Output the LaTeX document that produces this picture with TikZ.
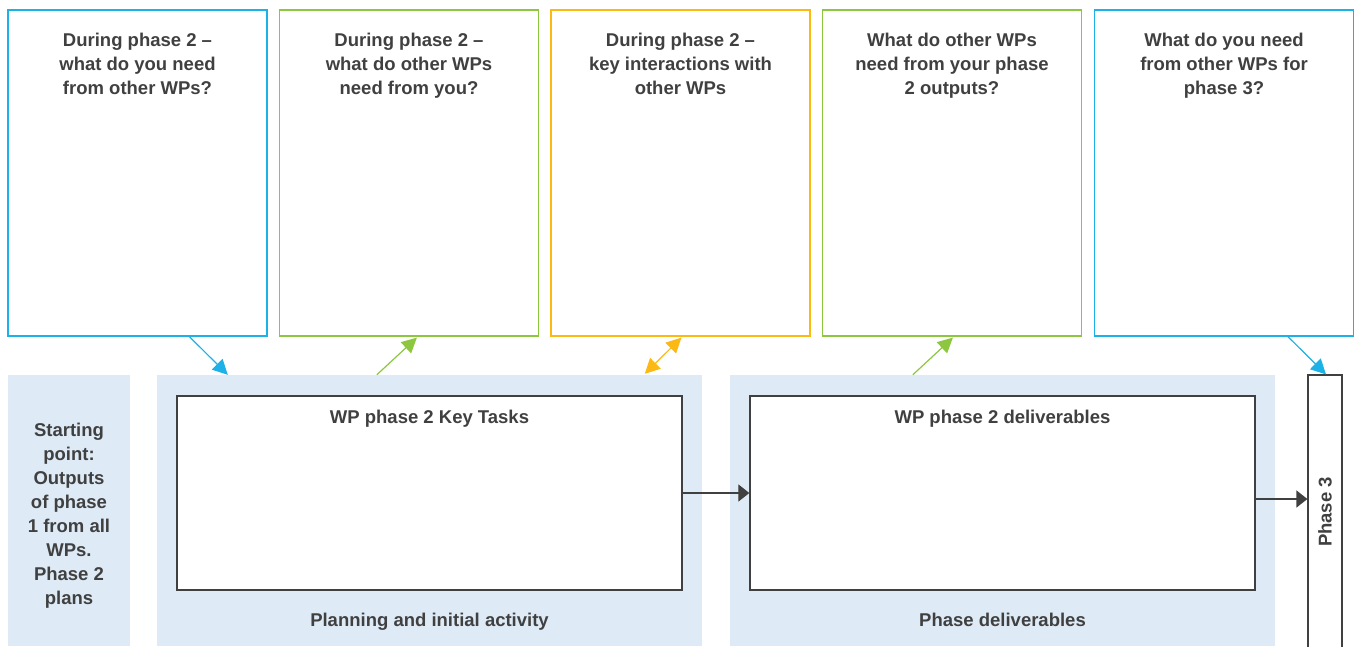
\documentclass[tikz,border=0pt]{standalone}
\usepackage{fontspec}
\setmainfont{Liberation Sans}
\usepackage{xcolor}
\definecolor{wpcyan}{HTML}{1CB1E7}
\definecolor{wpgreen}{HTML}{8DC63F}
\definecolor{wpyellow}{HTML}{FDB913}
\definecolor{wppale}{HTML}{DEEBF7}
\definecolor{wpgrey}{HTML}{404040}
\usepackage{tikz}
\usetikzlibrary{
  arrows.meta,
  positioning,
  calc
}

\begin{document}
\begin{tikzpicture}[
  x=1pt, y=-1pt,
  qbox/.style={rectangle, draw=#1, line width=1.2pt, fill=white, minimum width=259pt, minimum height=326pt, inner sep=0pt},
  panel/.style={rectangle, fill=wppale, minimum height=271pt, inner sep=0pt},
  taskbox/.style={rectangle, draw=wpgrey, line width=1.3pt, fill=white, minimum width=505pt, minimum height=194pt, inner sep=0pt},
  head/.style={inner sep=0pt, align=center, text=wpgrey, font=\fontsize{18.5}{24}\selectfont\bfseries},
  arr/.style={-{Triangle[length=15pt,width=15pt]}, line width=1.2pt, #1},
  flow/.style={-{Triangle[length=11pt,width=17pt]}, line width=1.2pt, wpgrey}
]
  \clip (0,0) rectangle (1359,646);

  % question boxes along the top
  \node[qbox=wpcyan] (q1) at (137.5,173) {};
  \node[head, below=23pt of q1.north] {During phase 2 --\\what do you need\\from other WPs?};

  \node[qbox=wpgreen] (q2) at (409,173) {};
  \node[head, below=23pt of q2.north] {During phase 2 --\\what do other WPs\\need from you?};

  \node[qbox=wpyellow] (q3) at (680.5,173) {};
  \node[head, below=23pt of q3.north] {During phase 2 --\\key interactions with\\other WPs};

  \node[qbox=wpgreen] (q4) at (952,173) {};
  \node[head, below=23pt of q4.north] {What do other WPs\\need from your phase\\2 outputs?};

  \node[qbox=wpcyan] (q5) at (1224,173) {};
  \node[head, below=23pt of q5.north] {What do you need\\from other WPs for\\phase 3?};

  % phase panels
  \node[panel, minimum width=122pt] (start) at (69,510.5) {};
  \node[head] at (69,516) {Starting\\point:\\Outputs\\of phase\\1 from all\\WPs.\\Phase 2\\plans};

  \node[panel, minimum width=545pt] (plan) at (429.5,510.5) {};
  \node[taskbox] (tasks) at (429.5,493) {};
  \node[head, below=15pt of tasks.north] {WP phase 2 Key Tasks};
  \node[head, anchor=base] at ($(plan.south)+(0,-20)$) {Planning and initial activity};

  \node[panel, minimum width=545pt] (deliv) at (1002.5,510.5) {};
  \node[taskbox] (items) at (1002.5,493) {};
  \node[head, below=15pt of items.north] {WP phase 2 deliverables};
  \node[head, anchor=base] at ($(deliv.south)+(0,-20)$) {Phase deliverables};

  \node[rectangle, draw=wpgrey, line width=1.2pt, fill=white, minimum width=34pt, minimum height=300pt, inner sep=0pt] (phase) at (1325,525) {};
  \node[head, rotate=90] at (1325,512) {Phase 3};

  % links to the question boxes
  \draw[arr=wpcyan] ($(q1.south west)+(182,0)$) -- ($(plan.north west)+(71,0)$);
  \draw[arr=wpgreen] ($(plan.north west)+(220,0)$) -- ($(q2.south west)+(138,1)$);
  \draw[arr=wpyellow, {Triangle[length=15pt,width=15pt]}-{Triangle[length=15pt,width=15pt]}] ($(plan.north west)+(488,-1)$) -- ($(q3.south west)+(131,1)$);
  \draw[arr=wpgreen] ($(deliv.north west)+(183,0)$) -- ($(q4.south west)+(131,1)$);
  \draw[arr=wpcyan] ($(q5.south west)+(194,0)$) -- ($(phase.north)+(1,0)$);

  % flow between the phases
  \coordinate (handoff) at ($(items.east)+(0,6)$);
  \draw[flow] (tasks) -- (items);
  \draw[flow] (handoff) -- (handoff -| phase.west);
\end{tikzpicture}
\end{document}
